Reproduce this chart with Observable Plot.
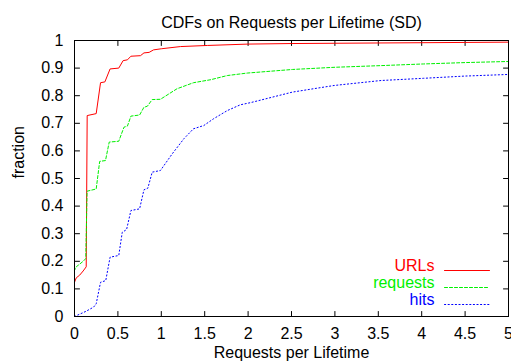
<!DOCTYPE html>
<html>
<head>
<meta charset="utf-8">
<script src="https://cdn.jsdelivr.net/npm/d3@7"></script>
<script src="https://cdn.jsdelivr.net/npm/@observablehq/plot@0.6"></script>
<style>
  html, body { margin: 0; padding: 0; background: #fff; }
  #chart svg { display: block; }
</style>
</head>
<body>
<div id="chart"></div>
<script>
// CDF of requests per lifetime, one curve per counted quantity
const urlsX = [0, 0, 0.02, 0.06, 0.10, 0.135, 0.146, 0.25, 0.30, 0.35, 0.41, 0.51, 0.56, 0.61, 0.65, 0.76, 0.80, 0.86, 0.91, 1.0, 1.22, 1.53, 2.0, 2.5, 3.0, 3.5, 4.0, 4.5, 5.0];
const urlsY = [0, 0.124, 0.14, 0.15, 0.165, 0.18, 0.728, 0.735, 0.847, 0.85, 0.897, 0.9, 0.927, 0.93, 0.943, 0.945, 0.955, 0.957, 0.966, 0.97, 0.978, 0.982, 0.987, 0.989, 0.99, 0.991, 0.992, 0.993, 0.994];

const requestsX = [0, 0, 0.02, 0.06, 0.10, 0.13, 0.145, 0.25, 0.29, 0.357, 0.40, 0.51, 0.57, 0.61, 0.65, 0.75, 0.80, 0.84, 0.895, 0.99, 1.18, 1.37, 1.57, 1.76, 1.99, 2.51, 3.0, 3.53, 4.02, 4.5, 5.0];
const requestsY = [0, 0.167, 0.18, 0.19, 0.2, 0.21, 0.454, 0.462, 0.562, 0.565, 0.632, 0.635, 0.686, 0.69, 0.726, 0.73, 0.758, 0.762, 0.786, 0.787, 0.825, 0.847, 0.858, 0.873, 0.882, 0.895, 0.903, 0.909, 0.915, 0.92, 0.924];

const hitsX = [0, 0.127, 0.22, 0.25, 0.30, 0.36, 0.41, 0.51, 0.55, 0.60, 0.65, 0.75, 0.80, 0.845, 0.895, 0.99, 1.125, 1.26, 1.37, 1.49, 1.60, 1.76, 1.91, 2.03, 2.51, 2.99, 3.53, 4.02, 4.49, 5.0];
const hitsY = [0, 0.018, 0.034, 0.046, 0.124, 0.13, 0.215, 0.221, 0.305, 0.315, 0.384, 0.39, 0.459, 0.465, 0.523, 0.529, 0.589, 0.644, 0.68, 0.692, 0.716, 0.746, 0.767, 0.775, 0.813, 0.837, 0.855, 0.863, 0.871, 0.877];

const seriesNames = ["URLs", "requests", "hits"];
const xTicks = [0, 0.5, 1, 1.5, 2, 2.5, 3, 3.5, 4, 4.5, 5];
const yTicks = [0, 0.1, 0.2, 0.3, 0.4, 0.5, 0.6, 0.7, 0.8, 0.9, 1];
const titleText = "CDFs on Requests per Lifetime (SD)";
const xLabel = "Requests per Lifetime";
const yLabel = "fraction";

const series = [
  {name: seriesNames[0], xs: urlsX, ys: urlsY, color: "#ff0000", dash: null},
  {name: seriesNames[1], xs: requestsX, ys: requestsY, color: "#00f000", dash: "3,2"},
  {name: seriesNames[2], xs: hitsX, ys: hitsY, color: "#0000ff", dash: "1.2,2.4"}
];

const toRows = s => s.xs.map((x, i) => ({x, y: s.ys[i]}));
const fmt = d => String(+d.toFixed(1));

// a plain straight stroke for the inward frame ticks and legend samples
const stroke = {draw(context, l) { context.moveTo(0, 0); context.lineTo(0, -l); }};

const marks = [];

// inward ticks on all four sides of the frame
marks.push(Plot.vector(yTicks, {x: 0, y: d => d, length: 5, rotate: 90, anchor: "start", shape: stroke, stroke: "black", strokeWidth: 1}));
marks.push(Plot.vector(yTicks, {x: 5, y: d => d, length: 5, rotate: -90, anchor: "start", shape: stroke, stroke: "black", strokeWidth: 1}));
marks.push(Plot.vector(xTicks, {x: d => d, y: 0, length: 5, rotate: 0, anchor: "start", shape: stroke, stroke: "black", strokeWidth: 1}));
marks.push(Plot.vector(xTicks, {x: d => d, y: 1, length: 5, rotate: 180, anchor: "start", shape: stroke, stroke: "black", strokeWidth: 1}));

// tick labels
marks.push(Plot.axisY(yTicks, {tickSize: 0, tickPadding: 11, tickFormat: fmt, label: null, fontSize: 16}));
marks.push(Plot.axisX(xTicks, {tickSize: 0, tickPadding: 11, tickFormat: fmt, label: null, fontSize: 16}));

// the three CDF curves
for (const s of series) {
  marks.push(Plot.line(toRows(s), {x: "x", y: "y", stroke: s.color, strokeWidth: 1, strokeDasharray: s.dash, curve: "linear"}));
}

// legend, bottom right inside the frame
const legendDy = [-46, -29, -12];
series.forEach((s, i) => {
  marks.push(Plot.text([s.name], {frameAnchor: "bottom-right", dx: -74, dy: legendDy[i], textAnchor: "end", fill: s.color, fontSize: 16}));
  marks.push(Plot.vector([s.name], {frameAnchor: "bottom-right", dx: -64, dy: legendDy[i], length: 45, rotate: 90, anchor: "start", shape: stroke, stroke: s.color, strokeWidth: 1, strokeDasharray: s.dash}));
});

// frame and titles
marks.push(Plot.frame({stroke: "black", strokeWidth: 1}));
marks.push(Plot.text([titleText], {frameAnchor: "top", dy: -24, fontSize: 16}));
marks.push(Plot.text([xLabel], {frameAnchor: "bottom", dy: 41, fontSize: 16}));
marks.push(Plot.text([yLabel], {frameAnchor: "left", dx: -56, rotate: -90, fontSize: 16}));

const chart = Plot.plot({
  width: 511,
  height: 364,
  marginLeft: 74,
  marginRight: 3,
  marginTop: 40,
  marginBottom: 48,
  style: {fontFamily: "'Liberation Sans', Arial, Helvetica, sans-serif", fontSize: "16px", color: "black", background: "white"},
  x: {domain: [0, 5]},
  y: {domain: [0, 1]},
  marks
});
document.getElementById("chart").append(chart);
</script>
</body>
</html>
